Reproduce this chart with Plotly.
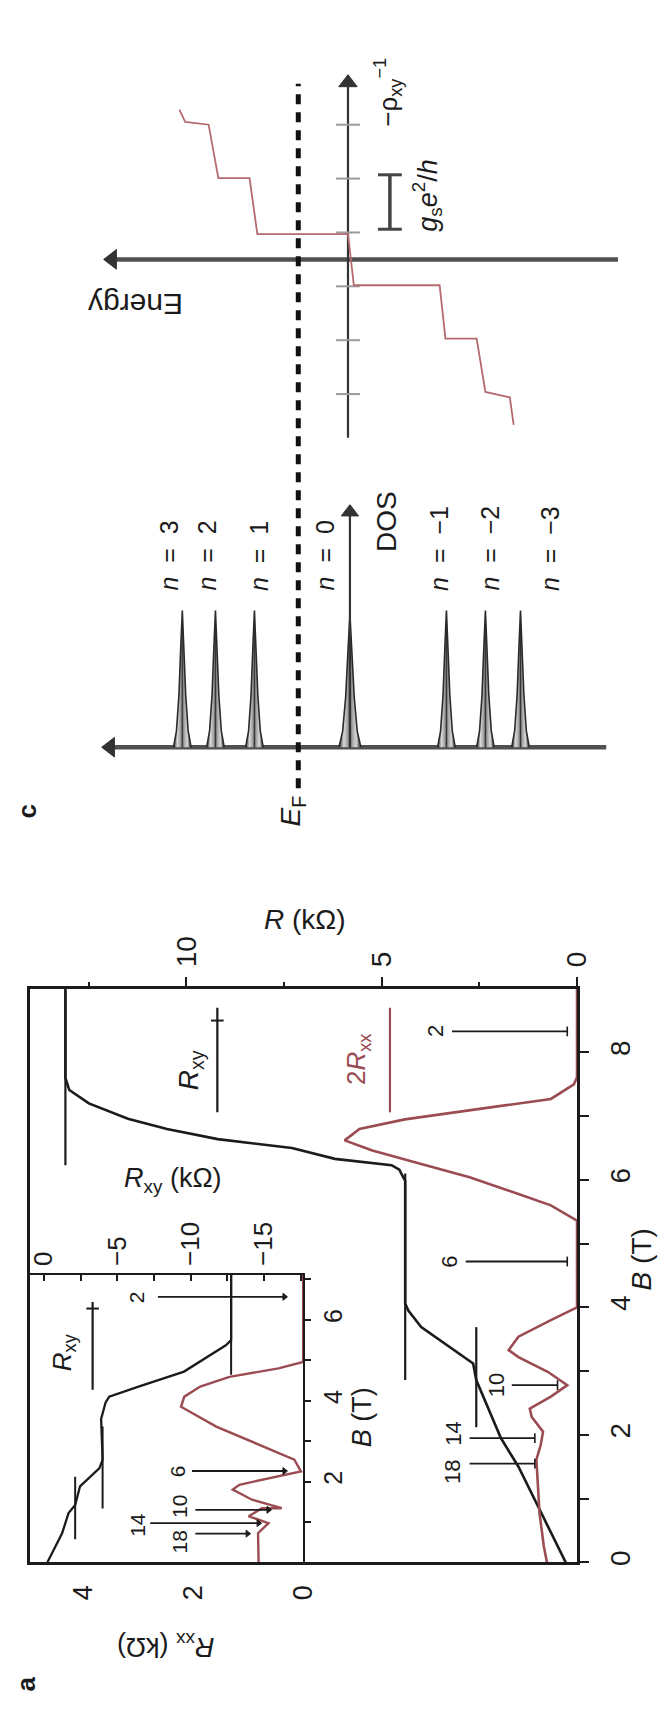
import plotly.graph_objects as go

# ================= DATA =================
# ---- panel a, main plot: B (T) vs R (kOhm) ----
main_B_xy = [0.0, 0.67, 1.50, 1.95, 2.49, 2.86, 3.12, 3.69, 3.95, 4.06, 5.52, 5.99, 6.04, 6.16,
             6.23, 6.33, 6.50, 6.64, 6.80, 6.96, 7.20, 7.41, 7.60, 9.0]
main_Rxy = [0.29, 0.83, 1.50, 1.95, 2.33, 2.58, 2.66, 3.99, 4.32, 4.40, 4.40, 4.40, 4.45, 4.55,
            4.75, 6.20, 7.30, 9.20, 10.5, 11.5, 12.5, 13.0, 13.1, 13.1]

main_B_xx = [0.0, 0.25, 0.77, 1.29, 1.61, 1.84, 2.05, 2.28, 2.41, 2.60, 2.78, 2.99, 3.22, 3.33,
             3.54, 3.80, 4.0, 5.36, 5.60, 5.78, 6.04, 6.25, 6.46, 6.62, 6.80, 6.95, 7.11, 7.27,
             7.50, 7.61, 9.0]
main_2Rxx = [0.77, 0.85, 0.96, 1.02, 1.04, 0.93, 0.87, 1.16, 1.21, 0.67, 0.25, 0.75, 1.50, 1.75,
             1.50, 0.67, 0.0, 0.0, 0.67, 1.50, 2.75, 3.99, 5.24, 5.95, 5.57, 4.41, 2.50, 0.67,
             0.08, 0.0, 0.0]

# quantized Hall plateau marker lines (R value, B from, B to)
main_plateau_R = [13.1, 4.40, 2.58]
main_plateau_B0 = [6.23, 2.86, 2.12]
main_plateau_B1 = [8.97, 6.10, 3.69]

# filling factor arrows
main_nu = ["2", "6", "10", "14", "18"]
main_nu_B = [8.33, 4.72, 2.78, 1.95, 1.55]
main_arrow_R0 = [3.20, 2.85, 1.67, 2.75, 2.75]
main_arrow_R1 = [0.25, 0.25, 0.50, 1.08, 1.08]
main_nu_label_R = [3.62, 3.27, 2.07, 3.17, 3.17]
main_nu_label_B = [8.33, 4.72, 2.78, 2.02, 1.42]

# ---- panel a, inset ----
ins_B_xx = [0.0, 0.40, 0.72, 0.97, 1.14, 1.34, 1.34, 1.55, 1.80, 1.92, 2.25, 2.54, 2.95, 3.36,
            3.85, 4.10, 4.35, 4.59, 4.80, 4.96, 7.11]
ins_Rxx = [0.81, 0.81, 0.82, 0.63, 0.99, 0.75, 0.39, 0.93, 1.28, 1.16, 0.04, 0.16, 0.87, 1.58,
           2.22, 2.16, 1.87, 1.34, 0.45, 0.0, 0.0]

ins_B_xy = [0.0, 0.72, 1.22, 1.42, 1.88, 2.33, 2.54, 3.55, 3.95, 4.10, 4.35, 4.72, 5.37, 5.50, 7.11]
ins_Rxy = [-0.24, -1.24, -1.68, -2.13, -2.46, -3.79, -4.0, -3.9, -4.2, -4.45, -6.45, -9.55,
           -12.4, -12.76, -12.76]

ins_plateau_R = [-12.76, -4.0, -2.13]
ins_plateau_B0 = [4.64, 1.33, 0.57]
ins_plateau_B1 = [7.11, 3.36, 2.12]

ins_nu = ["2", "6", "10", "14", "18"]
ins_nu_B = [6.57, 2.26, 1.30, 0.97, 0.71]
ins_arrow_R0 = [2.64, 2.02, 1.96, 2.78, 1.96]
ins_arrow_R1 = [0.34, 0.34, 0.63, 0.81, 1.01]
ins_nu_label_R = [3.03, 2.28, 2.25, 3.00, 2.25]
ins_nu_label_B = [6.57, 2.25, 1.38, 0.93, 0.50]

# ---- panel c: Landau level DOS ----
LL_n = ["3", "2", "1", "0", "\u22121", "\u22122", "\u22123"]
LL_E = [1.72, 1.38, 0.98, 0.0, -0.99, -1.39, -1.75]
LL_height = [1.0, 1.0, 1.0, 0.97, 1.0, 1.0, 1.0]
peak_dE = [-0.09, -0.06, -0.035, -0.015, 0.0, 0.015, 0.035, 0.06, 0.09]
peak_D = [0.0, 0.12, 0.38, 0.75, 1.0, 0.75, 0.38, 0.12, 0.0]
E_F = 0.53

# ---- panel c: Hall conductance staircase ----
stair_E = [1.75, 1.69, 1.45, 1.35, 1.03, 0.95, 0.02, -0.04, -0.92, -0.98, -1.30, -1.39, -1.64, -1.68]
stair_s = [2.78, 2.55, 2.50, 1.51, 1.51, 0.47, 0.47, -0.48, -0.48, -1.47, -1.47, -2.46, -2.56, -3.07]
sigma_ticks = [2.5, 1.5, 0.5, -0.5, -1.5, -2.5]

# ================= STYLE / LAYOUT =================
W, H = 670, 1712
def px(x):
    return x / W
def py(y):
    return 1 - y / H

BLACK = "#1b1b1b"
RED = "#9a4c52"
STAIR = "#b56a6e"
GREY = "#505050"
FONT = "Liberation Sans, Arial, sans-serif"

fig = go.Figure()

def line(xs, ys, xa, ya, color=BLACK, width=2.5, dash=None):
    fig.add_trace(go.Scatter(x=xs, y=ys, xaxis=xa, yaxis=ya, mode="lines",
                             line=dict(color=color, width=width, dash=dash),
                             hoverinfo="skip"))

def marks(xs, ys, xa, ya, symbol, size, color=BLACK, width=2):
    fig.add_trace(go.Scatter(x=xs, y=ys, xaxis=xa, yaxis=ya, mode="markers",
                             marker=dict(symbol=symbol, size=size, color=color,
                                         line=dict(color=color, width=width)),
                             hoverinfo="skip", cliponaxis=False))

# --- main panel ---
for R, b0, b1 in zip(main_plateau_R, main_plateau_B0, main_plateau_B1):
    line([R, R], [b0, b1], "x", "y", width=2.2)
line(main_Rxy, main_B_xy, "x", "y", width=2.6)
line(main_2Rxx, main_B_xx, "x", "y", color=RED, width=2.6)
for r0, r1, b in zip(main_arrow_R0, main_arrow_R1, main_nu_B):
    line([r0, r1], [b, b], "x", "y", width=1.8)
marks(main_arrow_R1, main_nu_B, "x", "y", "line-ns-open", 7, width=1.6)
# legend-like marker lines
line([9.21, 9.21], [7.06, 8.70], "x", "y", width=2.2)
marks([9.21], [8.50], "x", "y", "line-ew-open", 9, width=2)
line([4.79, 4.79], [7.06, 8.70], "x", "y", color=RED, width=2.2)

# --- inset ---
for R, b0, b1 in zip(ins_plateau_R, ins_plateau_B0, ins_plateau_B1):
    line([R, R], [b0, b1], "x3", "y2", width=2.0)
line(ins_Rxy, ins_B_xy, "x3", "y2", width=2.3)
line(ins_Rxx, ins_B_xx, "x2", "y2", color=RED, width=2.4)
for r0, r1, b in zip(ins_arrow_R0, ins_arrow_R1, ins_nu_B):
    line([r0, r1], [b, b], "x2", "y2", width=1.8)
marks(ins_arrow_R1, ins_nu_B, "x2", "y2", "triangle-right", 6, width=1)
line([-3.32, -3.32], [4.27, 6.44], "x3", "y2", width=2.2)
marks([-3.32], [6.28], "x3", "y2", "line-ew-open", 9, width=2)

# --- panel c: DOS ---
line([-2.63, 2.42], [0, 0], "x4", "y4", color=GREY, width=4.5)
marks([2.46], [0], "x4", "y4", "triangle-left", 17, color="#333", width=1)
for E, h, n in zip(LL_E, LL_height, LL_n):
    w = 1.25 if n == "0" else 1.0
    xs = [E + d * w for d in peak_dE]
    ys = [v * h for v in peak_D]
    fig.add_trace(go.Scatter(
        x=xs, y=ys, xaxis="x4", yaxis="y4", mode="lines", fill="toself",
        line=dict(color="#2a2a2a", width=1.6),
        fillgradient=dict(type="horizontal",
                          colorscale=[[0, "#2a2a2a"], [0.22, "#d8d8d8"], [0.42, "#9a9a9a"],
                                      [0.5, "#333333"], [0.58, "#9a9a9a"], [0.78, "#d8d8d8"],
                                      [1, "#2a2a2a"]]),
        hoverinfo="skip"))
line([0.0, 0.0], [0, 1.70], "x4", "y4", color="#333", width=2.2)
marks([0.0], [1.72], "x4", "y4", "triangle-up", 15, color="#333", width=1)

# --- panel c: staircase ---
line([-2.75, 2.40], [0, 0], "x5", "y5", color=GREY, width=4.5)
marks([2.44], [0], "x5", "y5", "triangle-left", 17, color="#333", width=1)
line([0.02, 0.02], [-3.31, 3.25], "x5", "y5", color="#333", width=2.2)
marks([0.02], [3.28], "x5", "y5", "triangle-up", 16, color="#333", width=1)
marks([0.02] * len(sigma_ticks), sigma_ticks, "x5", "y5", "line-ew-open", 17, color="#9a9a9a", width=2)
line(stair_E, stair_s, "x5", "y5", color=STAIR, width=1.8)
line([-0.41, -0.41], [0.56, 1.57], "x5", "y5", color="#444", width=3.5)
marks([-0.41, -0.41], [0.56, 1.57], "x5", "y5", "line-ew-open", 17, color="#444", width=3)

# ================= ANNOTATIONS =================
ann = []
def text(t, x, y, xref="paper", yref="paper", size=26, angle=-90, color=BLACK,
         xanchor="center", yanchor="middle", bold=False):
    ann.append(dict(text=("<b>%s</b>" % t) if bold else t, x=x, y=y, xref=xref, yref=yref,
                    showarrow=False, textangle=angle, xanchor=xanchor, yanchor=yanchor,
                    font=dict(size=size, color=color, family=FONT)))

# main panel texts
text("<i>R</i> (k\u03a9)", px(311), py(922), size=28, angle=0)
text("<i>B</i> (T)", px(656), py(1262), size=28)
text("<i>R</i><sub>xy</sub>", 9.91, 7.72, "x", "y", size=28)
text("2<i>R</i><sub>xx</sub>", 5.62, 7.89, "x", "y", size=26, color=RED)
for t, r, b in zip(main_nu, main_nu_label_R, main_nu_label_B):
    text(t, r, b, "x", "y", size=22)

# inset texts
text("<i>R</i><sub>xy</sub> (k\u03a9)", px(175), py(1183), size=27, angle=0)
text("<i>B</i> (T)", px(369), py(1421), size=27)
text("<i>R</i><sub>xx</sub> (k\u03a9)", px(168), py(1649), size=27, angle=180)
text("<i>R</i><sub>xy</sub>", -1.33, 5.21, "x3", "y2", size=26)
for t, r, b in zip(ins_nu, ins_nu_label_R, ins_nu_label_B):
    text(t, r, b, "x2", "y2", size=21)

# panel letters
text("a", px(25), py(1688), size=26, bold=True)
text("c", px(26), py(813), size=26, bold=True)

# panel c texts
label_E = [1.86, 1.47, 0.93, 0.26, -0.92, -1.44, -2.06]
for n, e in zip(LL_n, label_E):
    text("<i>n</i>\u00a0\u00a0=\u00a0\u00a0" + n, e, 1.13, "x4", "y4", size=25, yanchor="bottom")
text("DOS", -0.37, 1.41, "x4", "y4", size=28, yanchor="bottom")
text("Energy", 1.90, -0.39, "x4", "y4", size=30, angle=180)
text("Energy", 2.20, -0.85, "x5", "y5", size=30, angle=180)
text("<i>E</i><sub>F</sub>", px(298), py(813), size=28)
text("\u2212\u03c1<sub>xy</sub><sup>\u22121</sup>", -0.39, 3.11, "x5", "y5", size=26)
text("<i>g</i><sub>s</sub><i>e</i><sup>2</sup>/<i>h</i>", -0.79, 1.20, "x5", "y5", size=27)

shapes = [dict(type="line", xref="x4", yref="paper", x0=E_F, x1=E_F, y0=py(790), y1=py(84),
               line=dict(color="#111", width=5, dash="10px,8px"))]

axis_common = dict(showgrid=False, zeroline=False, linecolor=BLACK, tickcolor=BLACK,
                   tickfont=dict(size=28, family=FONT, color=BLACK))
hidden = dict(visible=False, showgrid=False, zeroline=False, fixedrange=True)

fig.update_layout(
    width=W, height=H, margin=dict(l=0, r=0, t=0, b=0),
    paper_bgcolor="white", plot_bgcolor="rgba(0,0,0,0)", showlegend=False,
    font=dict(family=FONT, color=BLACK),
    xaxis=dict(domain=[px(29), px(590)], range=[14.0, 0], anchor="y", side="top",
               showline=True, mirror=True, linewidth=2.6, ticks="outside", ticklen=9, tickwidth=2,
               tickvals=[0, 5, 10], tickangle=-90, ticklabelstandoff=4,
               minor=dict(tickvals=[2.5, 7.5, 12.5], ticks="outside", ticklen=4, tickwidth=2,
                          tickcolor=BLACK), **axis_common),
    yaxis=dict(domain=[py(1566), py(991)], range=[0, 9], anchor="x", side="right",
               showline=True, mirror=True, linewidth=2.6, ticks="outside", ticklen=9, tickwidth=2,
               tickvals=[0, 2, 4, 6, 8], tickangle=-90, ticklabelstandoff=8,
               minor=dict(tickvals=[1, 3, 5, 7], ticks="outside", ticklen=9, tickwidth=2,
                          tickcolor=BLACK), **axis_common),
    xaxis2=dict(domain=[px(29), px(309)], range=[4.96, 0], anchor="y2", side="bottom",
                showline=True, mirror=True, linewidth=2.4, ticks="", tickvals=[0, 2, 4],
                tickangle=-90, ticklabelstandoff=10, **{**axis_common,
                "tickfont": dict(size=27, family=FONT, color=BLACK)}),
    yaxis2=dict(domain=[py(1566), py(1278)], range=[0, 7.11], anchor="x2", side="right",
                showline=True, mirror=True, linewidth=2.4, ticks="outside", ticklen=6, tickwidth=2,
                tickvals=[2, 4, 6], tickangle=-90, ticklabelstandoff=1,
                minor=dict(tickvals=[1, 3, 5, 7], ticks="outside", ticklen=6, tickwidth=2,
                           tickcolor=BLACK),
                **{**axis_common, "tickfont": dict(size=25, family=FONT, color=BLACK)}),
    xaxis3=dict(overlaying="x2", anchor="y2", side="top", range=[0.93, -17.67],
                showline=False, ticks="inside", ticklen=6, tickwidth=2,
                tickvals=[0, -5, -10, -15], ticktext=["0", "\u22125", "\u221210", "\u221215"],
                tickangle=-90, ticklabelstandoff=8,
                minor=dict(tickvals=[-2.5, -7.5, -12.5, -17.5], ticks="inside", ticklen=6,
                           tickwidth=2, tickcolor=BLACK),
                **{**axis_common, "tickfont": dict(size=26, family=FONT, color=BLACK)}),
    xaxis4=dict(domain=[px(60), px(640)], range=[2.97, -2.83], anchor="y4", **hidden),
    yaxis4=dict(domain=[py(800), py(420)], range=[-0.3723, 2.4015], anchor="x4", **hidden),
    xaxis5=dict(domain=[px(60), px(640)], range=[2.97, -2.83], anchor="y5", **hidden),
    yaxis5=dict(domain=[py(460), py(40)], range=[-3.7037, 4.0741], anchor="x5", **hidden),
    annotations=ann, shapes=shapes,
)

fig.write_html("out.html")
